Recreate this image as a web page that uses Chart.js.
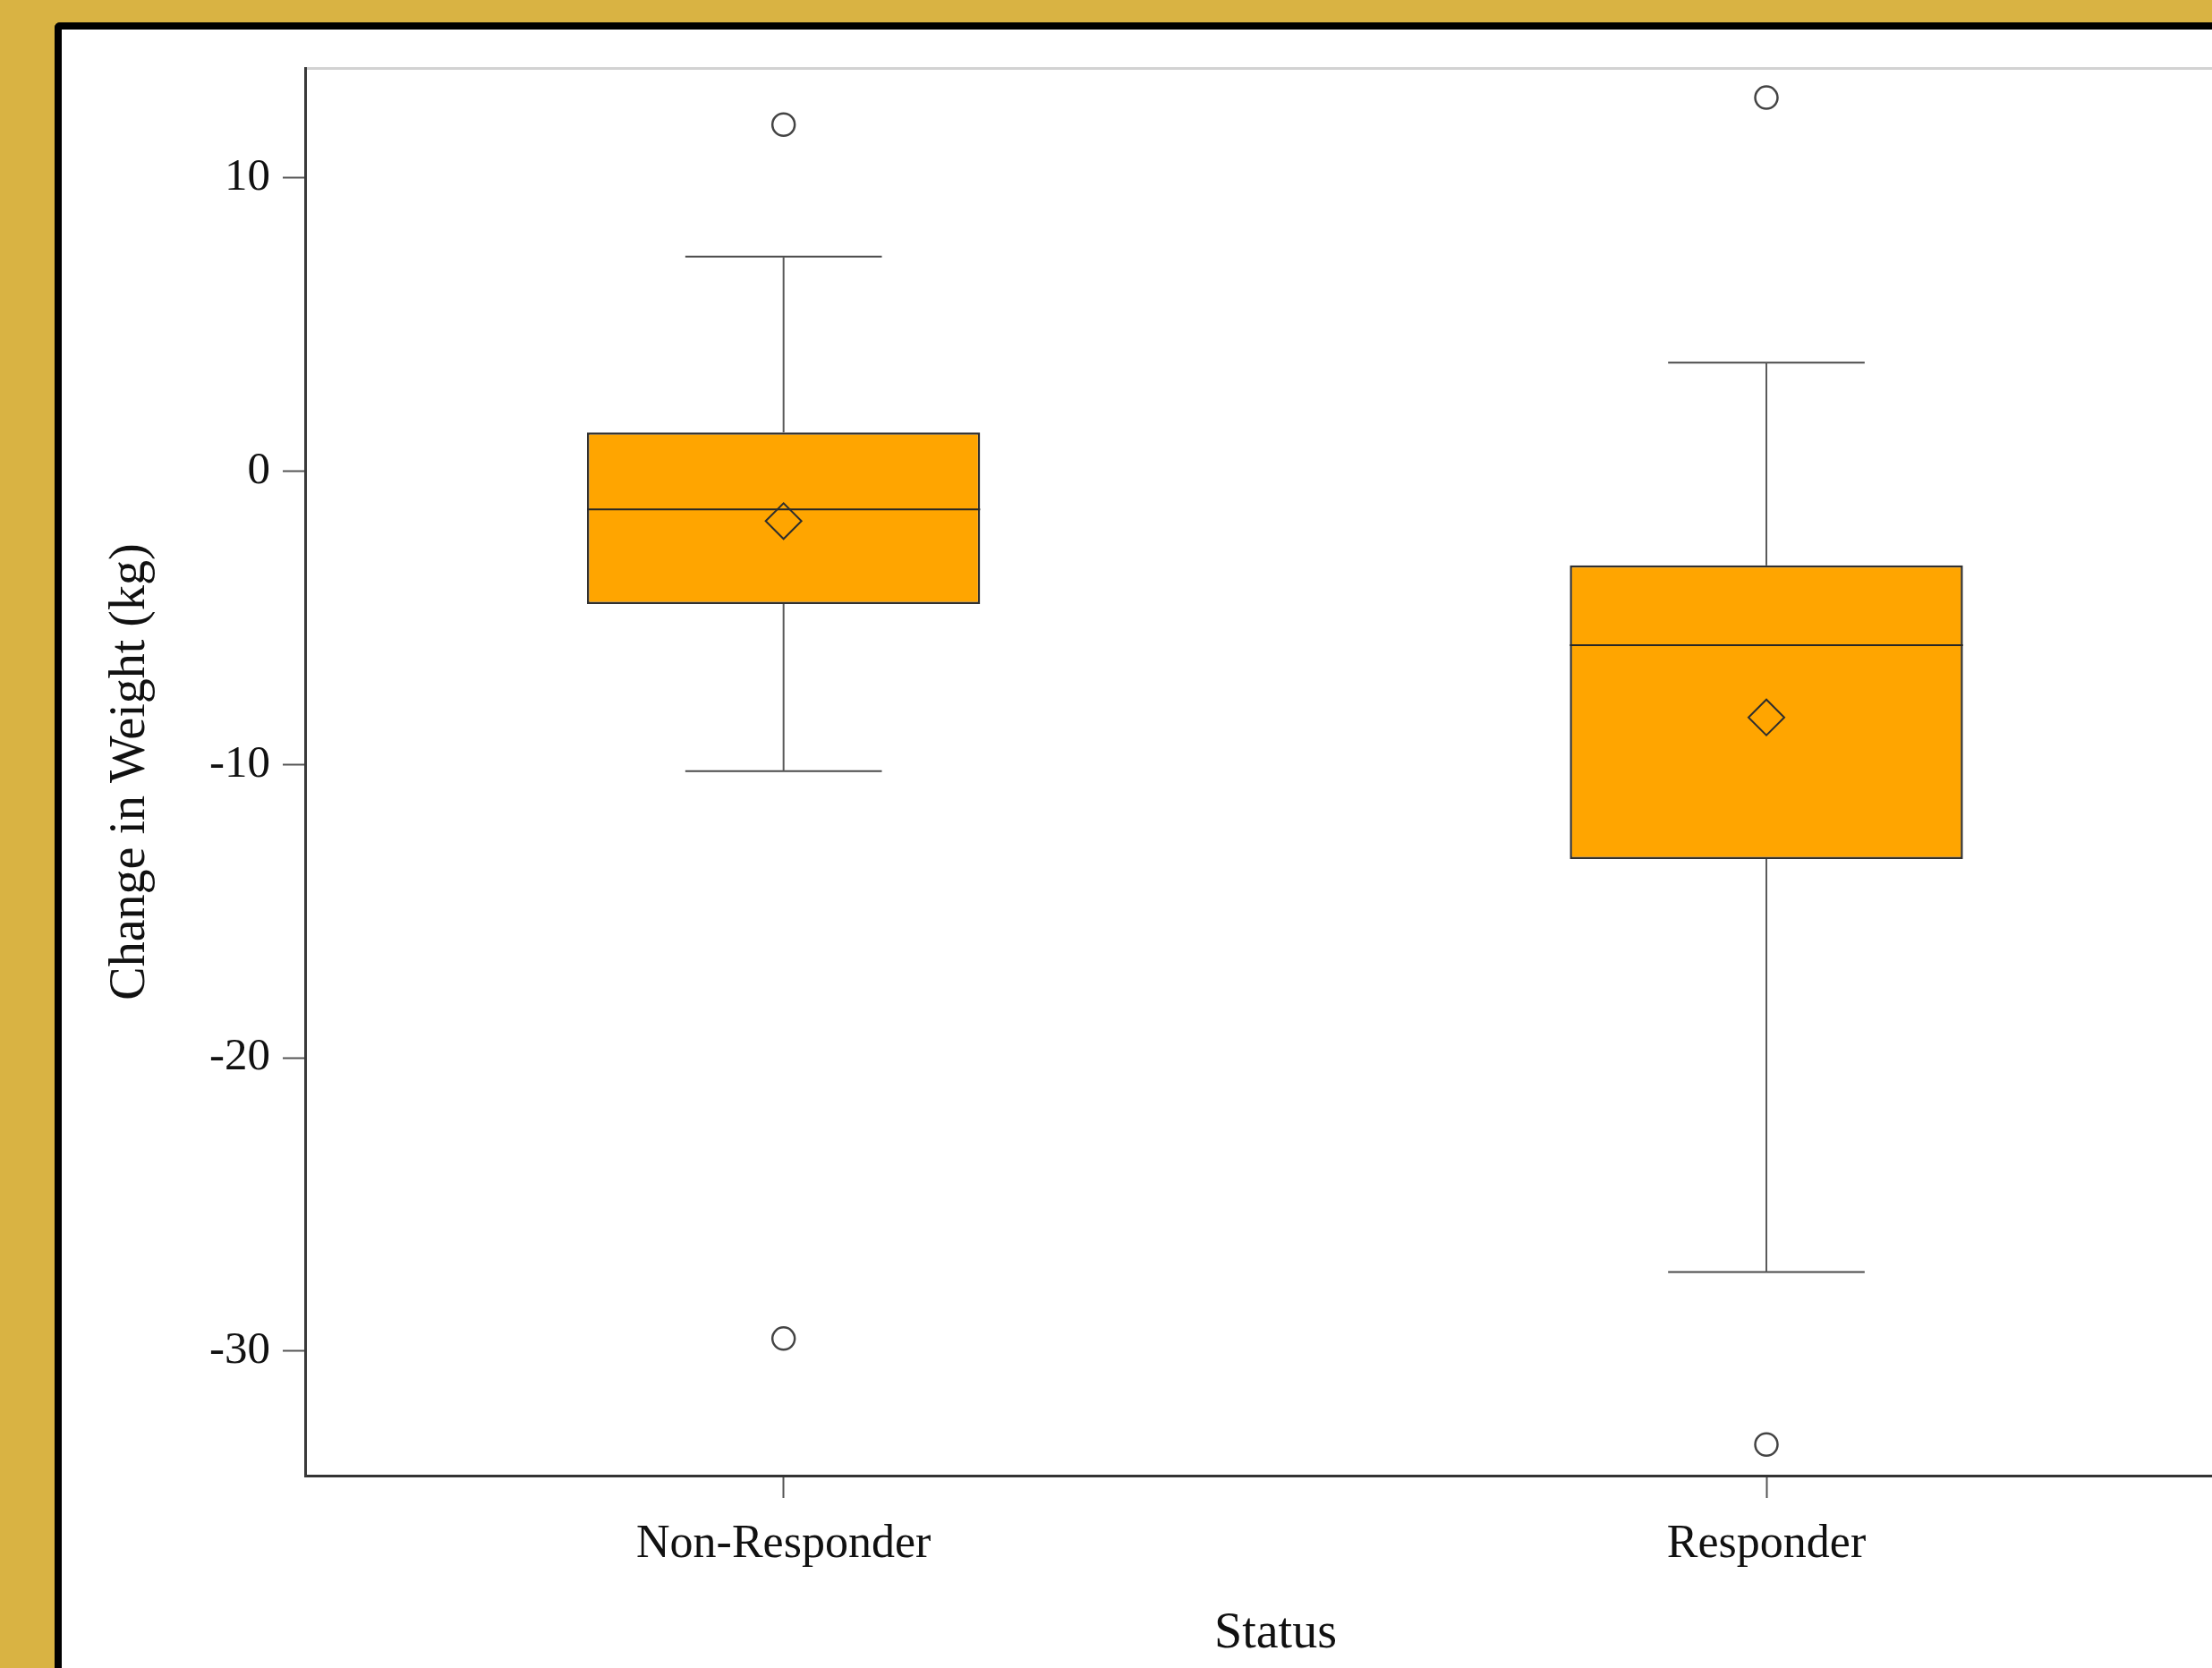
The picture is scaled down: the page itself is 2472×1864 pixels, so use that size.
<!DOCTYPE html>
<html>
<head>
<meta charset="utf-8">
<script src="https://cdn.jsdelivr.net/npm/chart.js@4/dist/chart.umd.min.js"></script>
<style>
  html, body { margin: 0; padding: 0; width: 2472px; height: 1864px; overflow: hidden; background: #d9b343; }
  #frame {
    position: absolute; left: 61px; top: 25px; width: 3000px; height: 3000px;
    border-left: 8px solid #000; border-top: 8px solid #000;
    border-top-left-radius: 6px; background: #fff;
  }
  #chart { position: absolute; left: 0; top: 0; }
</style>
</head>
<body>
<div id="frame"></div>
<canvas id="chart" width="2510" height="1864"></canvas>
<script>
// Weight change (kg) by response status: box summary per group
const categories  = ['Non-Responder', 'Responder'];
const q1          = [-4.54, -13.23];
const medians     = [-1.31, -5.94];
const q3          = [1.31, -3.22];
const whiskerLow  = [-10.23, -27.30];
const whiskerHigh = [7.30, 3.69];
const means       = [-1.71, -8.40];
const outliers    = [[11.80, -29.57], [12.72, -33.18]];
const yTicks      = [-30, -20, -10, 0, 10];

// drawing constants (in x-axis units around each group centre)
const BOX_HALF = 0.2;
const CAP_HALF = 0.1;
const X_MIN = 0.5132;
const X_MAX = 2.488;
const SERIF = "'Liberation Serif', 'Times New Roman', serif";

const pos = i => i + 1;

function segment(x0, y0, x1, y1, color) {
  return {
    type: 'line', xAxisID: 'x', yAxisID: 'y',
    data: [{ x: x0, y: y0 }, { x: x1, y: y1 }],
    borderColor: color, borderWidth: 2, pointRadius: 0,
    fill: false, tension: 0, order: 5
  };
}

const datasets = [];

// boxes: interquartile range as floating bars
datasets.push({
  type: 'bar', xAxisID: 'x', yAxisID: 'y',
  data: categories.map((c, i) => ({ x: pos(i), y: [q1[i], q3[i]] })),
  backgroundColor: '#ffa500',
  borderColor: '#303030',
  borderWidth: 2.5,
  borderSkipped: false,
  barPercentage: 2 * BOX_HALF,
  categoryPercentage: 1,
  order: 10
});

// whiskers, caps and medians
categories.forEach((c, i) => {
  const x = pos(i);
  datasets.push(segment(x, q3[i], x, whiskerHigh[i], '#5a5a5a'));
  datasets.push(segment(x, q1[i], x, whiskerLow[i], '#5a5a5a'));
  datasets.push(segment(x - CAP_HALF, whiskerHigh[i], x + CAP_HALF, whiskerHigh[i], '#4a4a4a'));
  datasets.push(segment(x - CAP_HALF, whiskerLow[i], x + CAP_HALF, whiskerLow[i], '#4a4a4a'));
  datasets.push(segment(x - BOX_HALF, medians[i], x + BOX_HALF, medians[i], '#262626'));
});

// means
datasets.push({
  type: 'scatter', xAxisID: 'x', yAxisID: 'y',
  data: means.map((m, i) => ({ x: pos(i), y: m })),
  pointStyle: 'rectRot', pointRadius: 20,
  borderColor: '#2e2e2e', borderWidth: 2,
  backgroundColor: 'rgba(0,0,0,0)',
  order: 1
});

// outliers
datasets.push({
  type: 'scatter', xAxisID: 'x', yAxisID: 'y',
  data: outliers.flatMap((list, i) => list.map(v => ({ x: pos(i), y: v }))),
  pointStyle: 'circle', pointRadius: 12.5,
  borderColor: '#444444', borderWidth: 2.5,
  backgroundColor: 'rgba(0,0,0,0)',
  order: 1
});

new Chart(document.getElementById('chart'), {
  type: 'bar',
  data: { datasets },
  options: {
    responsive: false,
    animation: false,
    events: [],
    layout: { autoPadding: false, padding: { top: 76, left: 0, right: 0, bottom: 0 } },
    plugins: { legend: { display: false }, tooltip: { enabled: false } },
    scales: {
      x: {
        type: 'linear',
        position: 'bottom',
        offset: false,
        min: X_MIN,
        max: X_MAX,
        afterBuildTicks: s => { s.ticks = categories.map((c, i) => ({ value: pos(i) })); },
        afterFit: s => { s.height = 215; s.paddingLeft = 0; s.paddingRight = 0; },
        ticks: {
          callback: v => categories[v - 1],
          font: { family: SERIF, size: 52 },
          color: '#111',
          padding: 21,
          maxRotation: 0,
          autoSkip: false
        },
        grid: { offset: false, drawOnChartArea: false, drawTicks: true, tickLength: 25, tickColor: '#555', tickWidth: 2 },
        border: { display: true, color: '#333', width: 3 },
        title: {
          display: true, text: 'Status',
          font: { family: SERIF, size: 56 },
          color: '#111',
          padding: { top: 0, bottom: 4 }
        }
      },
      xTop: {
        type: 'linear',
        position: 'top',
        offset: false,
        min: X_MIN,
        max: X_MAX,
        afterFit: s => { s.height = 0; s.paddingLeft = 0; s.paddingRight = 0; },
        ticks: { display: false },
        grid: { offset: false, drawOnChartArea: false, drawTicks: false },
        border: { display: true, color: '#d2d2d2', width: 3 }
      },
      y: {
        type: 'linear',
        position: 'left',
        min: -34.24,
        max: 13.73,
        afterBuildTicks: s => { s.ticks = yTicks.map(v => ({ value: v })); },
        afterFit: s => { s.width = 341; s.paddingTop = 0; s.paddingBottom = 0; },
        ticks: {
          font: { family: SERIF, size: 51 },
          color: '#111',
          padding: 14
        },
        grid: { drawOnChartArea: false, drawTicks: true, tickLength: 25, tickColor: '#555', tickWidth: 2 },
        border: { display: true, color: '#3a3a3a', width: 3 },
        title: {
          display: true, text: 'Change in Weight (kg)',
          font: { family: SERIF, size: 56 },
          color: '#111',
          padding: { top: 113, bottom: 0 }
        }
      }
    }
  }
});
</script>
</body>
</html>
